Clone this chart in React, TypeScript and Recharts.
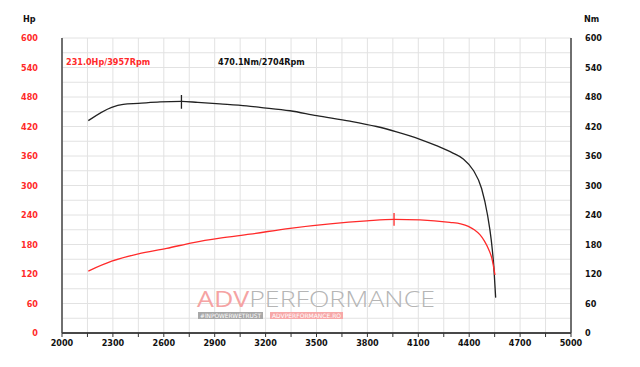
import React from "react";
import { ComposedChart, Line, XAxis, YAxis, CartesianGrid, ReferenceLine } from "recharts";

const torqueRpm = [2155, 2293, 2361, 2450, 2578, 2705, 2800, 2931, 3088, 3167, 3344, 3501, 3697, 3854, 3972, 4110, 4207, 4304, 4365, 4424, 4473, 4508, 4530, 4545, 4556];
const torqueNm = [432, 459, 465, 467, 470, 471, 469, 466, 462, 459, 452, 442, 431, 420, 409, 394, 381, 366, 354, 331, 294, 240, 189, 135, 72];

const powerRpm = [2155, 2293, 2450, 2617, 2774, 2931, 3108, 3344, 3580, 3796, 3957, 4110, 4286, 4350, 4395, 4430, 4463, 4490, 4515, 4535, 4552];
const powerHp = [126, 146, 161, 172, 184, 193, 201, 213, 222, 228, 231, 230, 225, 222, 217, 210, 200, 187, 170, 150, 118];

const xTicks = [2000, 2150, 2300, 2450, 2600, 2750, 2900, 3050, 3200, 3350, 3500, 3650, 3800, 3950, 4100, 4250, 4400, 4550, 4700, 4850, 5000];
const xLabelTicks = [2000, 2300, 2600, 2900, 3200, 3500, 3800, 4100, 4400, 4700, 5000];
const yTicks = [0, 30, 60, 90, 120, 150, 180, 210, 240, 270, 300, 330, 360, 390, 420, 450, 480, 510, 540, 570, 600];
const yLabelTicks = [0, 60, 120, 180, 240, 300, 360, 420, 480, 540, 600];

const peakPower = { rpm: 3957, value: 231.0, label: "231.0Hp/3957Rpm" };
const peakTorque = { rpm: 2704, value: 470.1, label: "470.1Nm/2704Rpm" };

const torqueData = torqueRpm.map((r, i) => ({ rpm: r, nm: torqueNm[i] }));
const powerData = powerRpm.map((r, i) => ({ rpm: r, hp: powerHp[i] }));

const FONT = "'DejaVu Sans Condensed', 'DejaVu Sans', sans-serif";
const RED = "#ff2a2a";

const fmtX = (v: number) => (xLabelTicks.includes(v) ? String(v) : "");
const fmtY = (v: number) => (yLabelTicks.includes(v) ? String(v) : "");

export default function App() {
  return (
    <div style={{ position: "absolute", left: 0, top: 0, width: 640, height: 367, background: "#fff" }}>
      <ComposedChart width={640} height={367} margin={{ top: 38, right: 0, bottom: 0, left: 0 }}>
        <CartesianGrid yAxisId="hp" stroke="#e2e2e2" strokeWidth={1} />
        <XAxis
          dataKey="rpm"
          type="number"
          domain={[2000, 5000]}
          ticks={xTicks}
          tickFormatter={fmtX}
          height={34}
          tickSize={4}
          tickMargin={3}
          axisLine={{ stroke: "#111", strokeWidth: 1.5 }}
          tickLine={{ stroke: "#333" }}
          tick={{ fontFamily: FONT, fontSize: 9, fontWeight: 700, fill: "#111" }}
          interval={0}
          allowDuplicatedCategory={false}
        />
        <YAxis
          yAxisId="hp"
          orientation="left"
          domain={[0, 600]}
          ticks={yTicks}
          tickFormatter={fmtY}
          width={62}
          tickSize={20}
          tickMargin={4}
          tickLine={false}
          axisLine={{ stroke: "#444", strokeWidth: 1.5 }}
          tick={{ fontFamily: FONT, fontSize: 9, fontWeight: 700, fill: RED }}
          interval={0}
        />
        <YAxis
          yAxisId="nm"
          orientation="right"
          domain={[0, 600]}
          ticks={yTicks}
          tickFormatter={fmtY}
          width={69}
          tickSize={10}
          tickMargin={4}
          tickLine={false}
          axisLine={{ stroke: "#444", strokeWidth: 1.5 }}
          tick={{ fontFamily: FONT, fontSize: 9, fontWeight: 700, fill: "#111" }}
          interval={0}
        />
        <Line
          yAxisId="nm"
          data={torqueData}
          dataKey="nm"
          type="monotone"
          stroke="#222"
          strokeWidth={1.3}
          dot={false}
          isAnimationActive={false}
        />
        <Line
          yAxisId="hp"
          data={powerData}
          dataKey="hp"
          type="monotone"
          stroke={RED}
          strokeWidth={1.3}
          dot={false}
          isAnimationActive={false}
        />
        <ReferenceLine
          yAxisId="nm"
          segment={[{ x: peakTorque.rpm, y: peakTorque.value - 14 }, { x: peakTorque.rpm, y: peakTorque.value + 14 }]}
          stroke="#222"
          strokeWidth={1.3}
        />
        <ReferenceLine
          yAxisId="hp"
          segment={[{ x: peakPower.rpm, y: peakPower.value - 13 }, { x: peakPower.rpm, y: peakPower.value + 13 }]}
          stroke={RED}
          strokeWidth={1.3}
        />
      </ComposedChart>
      <svg width={640} height={367} style={{ position: "absolute", left: 0, top: 0, pointerEvents: "none" }}>
        <text x={23} y={22} fontFamily={FONT} fontSize={9} fontWeight={700} fill="#111">Hp</text>
        <text x={584} y={22} fontFamily={FONT} fontSize={9} fontWeight={700} fill="#111">Nm</text>
        <text x={66} y={65} fontFamily={FONT} fontSize={9} fontWeight={700} fill={RED}>{peakPower.label}</text>
        <text x={218} y={65} fontFamily={FONT} fontSize={9} fontWeight={700} fill="#111">{peakTorque.label}</text>
        <text x={197} y={307} fontFamily="'Open Sans', 'DejaVu Sans', sans-serif" fontSize={22} fontWeight={300} textLength={238} lengthAdjust="spacingAndGlyphs">
          <tspan fill="#f5a3a3" fontWeight={400}>ADV</tspan>
          <tspan fill="#b5b5b5">PERFORMANCE</tspan>
        </text>
        <rect x={198} y={312} width={65} height={7} fill="#a8a8a8" />
        <text x={230.5} y={318} textAnchor="middle" fontFamily={FONT} fontSize={6} fill="#fff" textLength={61} lengthAdjust="spacingAndGlyphs">#INPOWERWETRUST</text>
        <rect x={270} y={312} width={73} height={7} fill="#f7a8a8" />
        <text x={306.5} y={318} textAnchor="middle" fontFamily={FONT} fontSize={6} fill="#fff" textLength={69} lengthAdjust="spacingAndGlyphs">ADVPERFORMANCE.RO</text>
      </svg>
    </div>
  );
}
